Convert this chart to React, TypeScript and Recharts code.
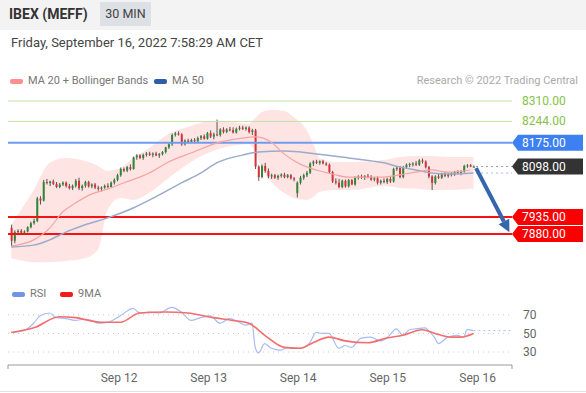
import { ComposedChart, Bar, Line, Area, XAxis, YAxis, ReferenceLine, CartesianGrid } from 'recharts';

// 30 min candles, [open, high, low, close]
const sep9Bars = [
  [7900, 7910, 7838, 7858], [7858, 7892, 7850, 7886], [7886, 7895, 7880, 7890], [7890, 7896, 7882, 7884],
  [7884, 7892, 7878, 7888], [7888, 7905, 7885, 7902], [7902, 7920, 7898, 7915], [7915, 7930, 7910, 7922],
  [7922, 8000, 7918, 7995], [7995, 8002, 7975, 7988], [7988, 8055, 7985, 8048], [8048, 8058, 8040, 8045],
  [8045, 8052, 8035, 8050], [8050, 8056, 8038, 8042], [8042, 8048, 8028, 8032], [8032, 8045, 8028, 8040],
  [8040, 8050, 8035, 8046], [8046, 8050, 8030, 8035], [8035, 8042, 8024, 8028], [8028, 8040, 8022, 8036],
  [8036, 8058, 8030, 8052], [8052, 8062, 8022, 8028], [8028, 8040, 8020, 8036], [8036, 8052, 8030, 8048],
  [8048, 8052, 8030, 8034], [8034, 8044, 8028, 8040], [8040, 8045, 8025, 8030], [8030, 8036, 8020, 8026],
  [8026, 8034, 8018, 8030], [8030, 8040, 8026, 8036], [8036, 8044, 8028, 8032], [8032, 8050, 8030, 8046],
  [8046, 8060, 8040, 8055],
];
const sep12Bars = [
  [8055, 8075, 8050, 8070], [8070, 8095, 8065, 8090], [8090, 8095, 8080, 8085], [8085, 8100, 8080, 8096],
  [8096, 8105, 8085, 8090], [8090, 8130, 8088, 8128], [8128, 8138, 8120, 8134], [8134, 8138, 8122, 8126],
  [8126, 8140, 8120, 8136], [8136, 8145, 8130, 8140], [8140, 8146, 8132, 8136], [8136, 8144, 8128, 8140],
  [8140, 8146, 8132, 8134], [8134, 8142, 8126, 8138], [8138, 8148, 8134, 8145], [8145, 8162, 8140, 8160],
  [8160, 8175, 8155, 8170], [8170, 8205, 8165, 8200], [8200, 8210, 8195, 8205], [8205, 8212, 8198, 8202],
  [8202, 8206, 8165, 8170], [8170, 8186, 8166, 8182], [8182, 8188, 8172, 8178], [8178, 8188, 8174, 8184],
  [8184, 8190, 8176, 8180], [8180, 8195, 8176, 8190], [8190, 8200, 8184, 8196], [8196, 8202, 8185, 8188],
];
const sep13Bars = [
  [8188, 8210, 8185, 8206], [8206, 8215, 8190, 8195], [8195, 8208, 8186, 8202], [8202, 8250, 8196, 8200],
  [8200, 8222, 8195, 8218], [8218, 8225, 8205, 8210], [8210, 8222, 8206, 8218], [8218, 8226, 8212, 8216],
  [8216, 8225, 8205, 8208], [8208, 8224, 8205, 8220], [8220, 8230, 8215, 8224], [8224, 8230, 8216, 8220],
  [8220, 8228, 8214, 8224], [8224, 8228, 8205, 8210], [8210, 8220, 8200, 8215], [8215, 8220, 8090, 8098],
  [8098, 8102, 8052, 8064], [8064, 8105, 8060, 8100], [8100, 8110, 8078, 8084], [8084, 8092, 8060, 8066],
  [8066, 8075, 8058, 8070], [8070, 8074, 8058, 8062], [8062, 8072, 8055, 8068], [8068, 8076, 8062, 8072],
  [8072, 8078, 8060, 8064], [8064, 8074, 8060, 8070], [8070, 8074, 8056, 8060], [8060, 8064, 8050, 8056],
];
const sep14Bars = [
  [8012, 8050, 7998, 8046], [8046, 8068, 8040, 8062], [8062, 8075, 8055, 8070], [8070, 8084, 8064, 8078],
  [8078, 8112, 8074, 8108], [8108, 8118, 8100, 8114], [8114, 8120, 8106, 8110], [8110, 8118, 8104, 8115],
  [8115, 8120, 8105, 8108], [8108, 8112, 8100, 8104], [8104, 8108, 8075, 8080], [8080, 8084, 8045, 8050],
  [8050, 8060, 8040, 8046], [8046, 8058, 8028, 8032], [8032, 8056, 8028, 8052], [8052, 8056, 8030, 8034],
  [8034, 8058, 8030, 8054], [8054, 8058, 8038, 8040], [8040, 8066, 8036, 8062], [8062, 8070, 8056, 8066],
  [8066, 8072, 8058, 8062], [8062, 8070, 8055, 8068], [8068, 8074, 8060, 8064], [8064, 8070, 8052, 8056],
  [8056, 8064, 8050, 8060], [8060, 8066, 8040, 8046], [8046, 8056, 8040, 8052], [8052, 8060, 8044, 8048],
];
const sep15Bars = [
  [8048, 8062, 8042, 8058], [8058, 8064, 8045, 8050], [8050, 8094, 8046, 8090], [8090, 8098, 8084, 8094],
  [8094, 8100, 8060, 8064], [8064, 8100, 8060, 8096], [8096, 8108, 8090, 8104], [8104, 8110, 8096, 8106],
  [8106, 8112, 8098, 8108], [8108, 8116, 8100, 8104], [8104, 8122, 8100, 8118], [8118, 8124, 8108, 8114],
  [8114, 8118, 8092, 8096], [8096, 8100, 8060, 8066], [8066, 8070, 8022, 8045], [8045, 8070, 8040, 8066],
  [8066, 8074, 8058, 8062], [8062, 8078, 8058, 8074], [8074, 8080, 8064, 8068], [8068, 8078, 8062, 8074],
  [8074, 8080, 8066, 8072], [8072, 8084, 8068, 8080], [8080, 8086, 8072, 8078], [8078, 8086, 8070, 8082],
  [8082, 8104, 8078, 8100], [8100, 8106, 8094, 8102], [8102, 8106, 8096, 8098], [8098, 8102, 8094, 8098],
];

const dayTicks = [34.6, 62.5, 90.4, 118.3, 146.3];
const dayLabels = ['Sep 12', 'Sep 13', 'Sep 14', 'Sep 15', 'Sep 16'];

// [candle index, value]
const ma20Pts = [
  [1, 7841], [8, 7861], [13, 7899], [17, 7951], [21, 7980], [26, 8009], [31, 8025], [36, 8045], [44, 8077],
  [50, 8113], [57, 8142], [65, 8174], [73, 8190], [77, 8194], [82, 8177], [86, 8139], [91, 8106], [96, 8087],
  [101, 8074], [106, 8064], [117, 8064], [122, 8071], [127, 8080], [132, 8087], [137, 8080], [144, 8087],
];
const ma50Pts = [
  [1, 7838], [8, 7844], [13, 7861], [18, 7886], [23, 7906], [31, 7932], [39, 7964], [46, 8000], [54, 8045],
  [60, 8077], [65, 8110], [73, 8135], [78, 8145], [86, 8148], [96, 8139], [106, 8126], [117, 8110],
  [122, 8097], [127, 8087], [132, 8077], [137, 8074], [145, 8077],
];
const bandIdx = [1, 8, 13, 18, 23, 28, 31, 35, 39, 44, 50, 57, 63, 70, 75, 77, 79, 82, 86, 89, 93, 95, 97, 102, 107, 117, 122, 127, 132, 137, 145];
const bandUpper = [7909, 8022, 8110, 8126, 8119, 8100, 8084, 8093, 8126, 8158, 8203, 8229, 8245, 8242, 8236, 8255, 8274, 8281, 8278, 8258, 8216, 8174, 8126, 8113, 8113, 8119, 8129, 8132, 8132, 8129, 8129];
const bandLower = [7802, 7789, 7789, 7793, 7799, 7828, 7958, 7996, 7990, 8013, 8061, 8113, 8145, 8165, 8171, 8145, 8093, 8048, 8013, 7996, 7990, 8000, 8016, 8022, 8022, 8035, 8029, 8026, 8022, 8022, 8026];

const rsiPts = [
  [1, 51], [5, 53], [8, 61], [10, 69], [13, 72], [15, 67], [18, 66], [21, 64], [23, 65], [26, 64], [28, 61],
  [31, 62], [35, 69], [39, 77], [41, 72], [44, 73], [47, 72], [51, 78], [54, 73], [57, 64], [60, 67], [63, 69],
  [66, 61], [69, 66], [72, 62], [74, 59], [76, 61], [77, 35], [78, 29], [80, 39], [82, 34], [85, 32], [87, 35],
  [91, 34], [94, 40], [96, 51], [98, 50], [100, 50], [103, 34], [105, 37], [107, 35], [110, 45], [113, 46],
  [116, 42], [118, 45], [121, 55], [123, 48], [125, 54], [127, 55], [130, 56], [131, 53], [133, 45], [134, 39],
  [137, 46], [140, 48], [142, 46], [143, 54], [145, 53],
];
const rsiMaPts = [
  [1, 51], [8, 56], [16, 68], [21, 67], [29, 62], [35, 62], [41, 72], [49, 73], [56, 72], [64, 67], [70, 64],
  [75, 61], [80, 48], [86, 35], [91, 34], [95, 40], [100, 46], [105, 42], [112, 40], [118, 45], [123, 48],
  [129, 54], [133, 50], [138, 46], [141, 46], [145, 50],
];
const rsiLevels = [30, 50, 70];

const resistances = [8310, 8244];
const pivot = 8175;
const lastPrice = 8098;
const supports = [7935, 7880];
const arrowFrom = [145.8, 8093];
const arrowTo = [156.2, 7886];

const rows = [...sep9Bars, ...sep12Bars, ...sep13Bars, ...sep14Bars, ...sep15Bars].map(([o, h, l, c], k) => ({
  i: k + 1, o, h, l, c, range: [l, h],
}));
const ma20Data = ma20Pts.map(([i, v]) => ({ i, v }));
const ma50Data = ma50Pts.map(([i, v]) => ({ i, v }));
const bandData = bandIdx.map((i, k) => ({ i, band: [bandLower[k], bandUpper[k]] }));
const rsiData = rsiPts.map(([i, v]) => ({ i, v }));
const rsiMaData = rsiMaPts.map(([i, v]) => ({ i, v }));

const font = 'Roboto, "Liberation Sans", sans-serif';

const Candle = (props: any) => {
  const { x, y, width, height, payload } = props;
  const { o, h, l, c } = payload;
  const top = Math.min(y, y + height);
  const hh = Math.abs(height);
  const k = h === l ? 0 : hh / (h - l);
  const color = c >= o ? '#2a8a35' : '#d7323a';
  const bodyTop = top + (h - Math.max(o, c)) * k;
  const bodyH = Math.max(1, Math.abs(o - c) * k);
  const cx = x + width / 2;
  return (
    <g>
      <line x1={cx} x2={cx} y1={top} y2={top + hh} stroke="#555" strokeWidth={1} />
      <rect x={x} y={bodyTop} width={width} height={bodyH} fill={color} />
    </g>
  );
};

const PriceTag = ({ viewBox, text, bg, color }: any) => {
  const xr = viewBox.x + viewBox.width;
  const yc = viewBox.y;
  if (!bg) {
    return (
      <text x={xr + 10} y={yc + 4} fill={color} fontSize={12} fontFamily={font}>
        {text}
      </text>
    );
  }
  return (
    <g>
      <polygon
        points={`${xr},${yc} ${xr + 6},${yc - 8} ${xr + 71},${yc - 8} ${xr + 71},${yc + 8} ${xr + 6},${yc + 8}`}
        fill={bg}
      />
      <text x={xr + 10} y={yc + 4} fill={color} fontSize={12} fontFamily={font}>
        {text}
      </text>
    </g>
  );
};

const ForecastArrow = (p: any) => {
  const { x1, y1, x2, y2 } = p;
  const a = Math.atan2(y2 - y1, x2 - x1);
  const bx = x2 - 12 * Math.cos(a);
  const by = y2 - 12 * Math.sin(a);
  const px = -Math.sin(a) * 6;
  const py = Math.cos(a) * 6;
  return (
    <g>
      <line x1={x1} y1={y1} x2={bx} y2={by} stroke="#3565ae" strokeWidth={4} />
      <polygon points={`${x2},${y2} ${bx + px},${by + py} ${bx - px},${by - py}`} fill="#3565ae" />
    </g>
  );
};

const AxisTick = (props: any) => {
  const { x, y, payload } = props;
  const k = dayTicks.indexOf(payload.value);
  if (k < 0) {
    return <line x1={x} x2={x} y1={y - 8} y2={y - 4} stroke="#999" />;
  }
  return (
    <text x={x} y={y} dy="0.71em" textAnchor="middle" fill="#666" fontSize={12} fontFamily={font}>
      {dayLabels[k]}
    </text>
  );
};

const swatch = (left: number, top: number, color: string) => (
  <div style={{ position: 'absolute', left, top, width: 13, height: 5, borderRadius: 2, background: color }} />
);
const legendText = (left: number, top: number, text: string) => (
  <div style={{ position: 'absolute', left, top, fontSize: 11, color: '#777', whiteSpace: 'nowrap' }}>{text}</div>
);

export default function App() {
  return (
    <div style={{ position: 'absolute', left: 0, top: 0, width: 586, height: 393, background: '#fff', fontFamily: font, overflow: 'hidden' }}>
      <div style={{ position: 'absolute', left: 0, top: 0, width: 586, height: 30, background: '#f3f3f3' }} />
      <div style={{ position: 'absolute', left: 9, top: 6, fontSize: 14, fontWeight: 700, color: '#333' }}>IBEX (MEFF)</div>
      <div
        style={{
          position: 'absolute', left: 100, top: 2, width: 51, height: 24, background: '#dde0e5',
          fontSize: 12.5, color: '#444', lineHeight: '24px', textAlign: 'center',
        }}
      >
        30 MIN
      </div>
      <div style={{ position: 'absolute', left: 11, top: 35, fontSize: 13, color: '#444' }}>
        Friday, September 16, 2022 7:58:29 AM CET
      </div>

      {swatch(10, 79, '#ff8f8f')}
      {legendText(28, 74, 'MA 20 + Bollinger Bands')}
      {swatch(154, 79, '#2e5ea8')}
      {legendText(172, 74, 'MA 50')}
      <div style={{ position: 'absolute', right: 8, top: 74, fontSize: 11, color: '#aaa' }}>Research © 2022 Trading Central</div>

      <div style={{ position: 'absolute', left: 0, top: 90 }}>
        <ComposedChart width={586} height={190} data={rows} margin={{ top: 5, right: 74, bottom: 5, left: 8 }}>
          <XAxis dataKey="i" type="number" domain={[0, 157]} hide allowDataOverflow />
          <YAxis type="number" domain={[7747.4, 8329.4]} hide allowDataOverflow />
          <Area
            data={bandData}
            dataKey="band"
            type="monotone"
            stroke="none"
            fill="#ffd8d8"
            fillOpacity={0.7}
            isAnimationActive={false}
          />
          {resistances.map((v) => (
            <ReferenceLine
              key={v}
              y={v}
              stroke="#bfe3a4"
              strokeWidth={1}
              label={(p: any) => <PriceTag viewBox={p.viewBox} text={v.toFixed(2)} color="#86c24a" />}
            />
          ))}
          <ReferenceLine
            y={pivot}
            stroke="#6f9cf0"
            strokeWidth={2}
            label={(p: any) => <PriceTag viewBox={p.viewBox} text={pivot.toFixed(2)} bg="#3d80f2" color="#fff" />}
          />
          {supports.map((v) => (
            <ReferenceLine
              key={v}
              y={v}
              stroke="#f21414"
              strokeWidth={2}
              label={(p: any) => <PriceTag viewBox={p.viewBox} text={v.toFixed(2)} bg="#fa0000" color="#fff" />}
            />
          ))}
          <Line data={ma50Data} dataKey="v" type="monotone" stroke="#9aaccb" strokeWidth={1.5} dot={false} isAnimationActive={false} />
          <Line data={ma20Data} dataKey="v" type="monotone" stroke="#f6a3a3" strokeWidth={1.2} dot={false} isAnimationActive={false} />
          <Bar dataKey="range" barSize={2} shape={<Candle />} isAnimationActive={false} />
          <ReferenceLine
            segment={[{ x: 145.8, y: ma50Pts[ma50Pts.length - 1][1] }, { x: 157, y: ma50Pts[ma50Pts.length - 1][1] }]}
            stroke="#a9bde6"
            strokeDasharray="2 3"
          />
          <ReferenceLine
            segment={[{ x: 145.8, y: lastPrice }, { x: 157, y: lastPrice }]}
            stroke="#999"
            strokeDasharray="2 3"
            label={(p: any) => <PriceTag viewBox={p.viewBox} text={lastPrice.toFixed(2)} bg="#333" color="#fff" />}
          />
          <ReferenceLine
            segment={[{ x: arrowFrom[0], y: arrowFrom[1] }, { x: arrowTo[0], y: arrowTo[1] }]}
            shape={(p: any) => <ForecastArrow {...p} />}
          />
        </ComposedChart>
      </div>

      {swatch(12, 292, '#7394e6')}
      {legendText(30, 287, 'RSI')}
      {swatch(60, 292, '#f01c1c')}
      {legendText(78, 287, '9MA')}

      <div style={{ position: 'absolute', left: 0, top: 290 }}>
        <ComposedChart width={586} height={100} data={rsiData} margin={{ top: 10, right: 0, bottom: 0, left: 8 }}>
          <CartesianGrid vertical={false} stroke="#c8c8c8" strokeDasharray="1 4" horizontalValues={rsiLevels} />
          <XAxis
            dataKey="i"
            type="number"
            domain={[0, 157]}
            ticks={[0, ...dayTicks, 157]}
            interval={0}
            height={25}
            tickLine={false}
            axisLine={{ stroke: '#999' }}
            tick={<AxisTick />}
            allowDataOverflow
          />
          <YAxis
            orientation="right"
            type="number"
            domain={[16, 86]}
            ticks={rsiLevels}
            interval={0}
            width={74}
            tickLine={false}
            axisLine={false}
            tickMargin={5}
            tick={{ fill: '#666', fontSize: 12 }}
            allowDataOverflow
          />
          <Line dataKey="v" type="monotone" stroke="#a7bcf4" strokeWidth={1.2} dot={false} isAnimationActive={false} />
          <Line data={rsiMaData} dataKey="v" type="monotone" stroke="#f46d6d" strokeWidth={1.6} dot={false} isAnimationActive={false} />
          <ReferenceLine
            segment={[{ x: 145, y: rsiPts[rsiPts.length - 1][1] }, { x: 157, y: rsiPts[rsiPts.length - 1][1] }]}
            stroke="#a7bcf4"
            strokeDasharray="2 3"
          />
        </ComposedChart>
      </div>

      <div style={{ position: 'absolute', left: 0, top: 391, width: 586, height: 1, background: '#e2e2e2' }} />
    </div>
  );
}
